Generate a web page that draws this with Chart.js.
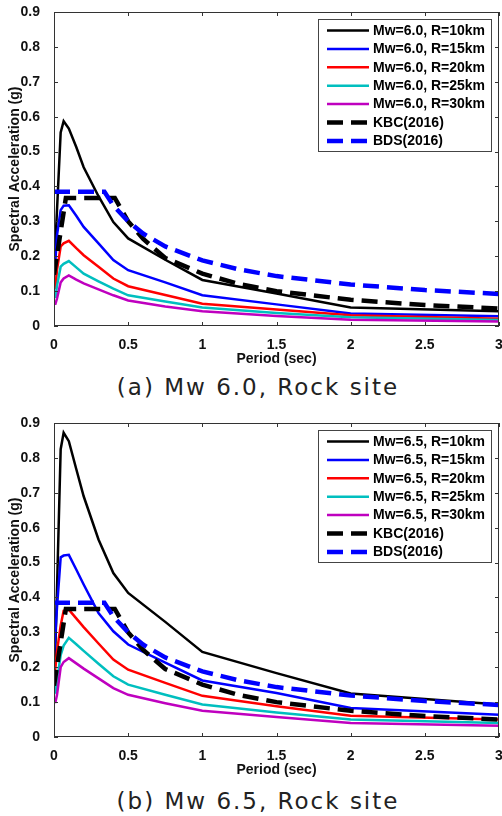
<!DOCTYPE html>
<html lang="en">
<head>
  <meta charset="UTF-8"/>
  <title>Response spectra - Rock site</title>
  <script src="https://cdn.jsdelivr.net/npm/chart.js"></script>
  <style>
    body { margin: 0; background: #fff; width: 502px; height: 816px; position: relative; overflow: hidden; }
    .chart-box { position: absolute; left: 0; width: 502px; height: 373px; }
    .caption {
      position: absolute; left: 0; width: 516px; text-align: center;
      font-family: "DejaVu Sans", sans-serif; font-size: 23px; letter-spacing: 2px;
      color: #222; line-height: 28px;
    }
  </style>
</head>
<body>

  <div class="chart-box" style="top:0px;"><canvas id="chartA"></canvas></div>
  <div class="caption" style="top:373px;">(a) Mw 6.0, Rock site</div>

  <div class="chart-box" style="top:411px;"><canvas id="chartB"></canvas></div>
  <div class="caption" style="top:787px;">(b) Mw 6.5, Rock site</div>

  <script>
    // periods (sec) of the attenuation curves
    const periods = [0, 0.01, 0.02, 0.045, 0.065, 0.1, 0.15, 0.2, 0.3, 0.4, 0.5, 0.75, 1, 1.5, 2, 3];

    // (a) Mw 6.0
    const sa60R10 = [0.150, 0.24, 0.33, 0.555, 0.587, 0.566, 0.513, 0.455, 0.372, 0.298, 0.251, 0.190, 0.132, 0.093, 0.053, 0.042];
    const sa60R15 = [0.130, 0.19, 0.26, 0.332, 0.345, 0.346, 0.316, 0.284, 0.237, 0.189, 0.160, 0.125, 0.088, 0.062, 0.036, 0.028];
    const sa60R20 = [0.107, 0.11, 0.16, 0.228, 0.237, 0.244, 0.223, 0.203, 0.170, 0.136, 0.114, 0.089, 0.064, 0.047, 0.031, 0.021];
    const sa60R25 = [0.082, 0.083, 0.115, 0.170, 0.178, 0.186, 0.168, 0.150, 0.128, 0.107, 0.088, 0.070, 0.053, 0.037, 0.025, 0.017];
    const sa60R30 = [0.064, 0.064, 0.078, 0.125, 0.136, 0.145, 0.133, 0.122, 0.105, 0.088, 0.073, 0.056, 0.042, 0.029, 0.018, 0.013];

    // (b) Mw 6.5
    const sa65R10 = [0.150, 0.27, 0.42, 0.825, 0.872, 0.848, 0.768, 0.690, 0.566, 0.470, 0.413, 0.330, 0.244, 0.183, 0.125, 0.093];
    const sa65R15 = [0.236, 0.30, 0.37, 0.515, 0.520, 0.522, 0.480, 0.437, 0.355, 0.303, 0.265, 0.213, 0.162, 0.126, 0.083, 0.064];
    const sa65R20 = [0.170, 0.20, 0.245, 0.320, 0.362, 0.365, 0.340, 0.315, 0.268, 0.222, 0.193, 0.155, 0.118, 0.088, 0.061, 0.050];
    const sa65R25 = [0.126, 0.128, 0.160, 0.235, 0.262, 0.284, 0.266, 0.247, 0.210, 0.174, 0.150, 0.121, 0.093, 0.070, 0.050, 0.040];
    const sa65R30 = [0.100, 0.100, 0.120, 0.200, 0.215, 0.226, 0.211, 0.196, 0.168, 0.140, 0.121, 0.097, 0.075, 0.057, 0.040, 0.032];

    // design spectra (same in both panels)
    const kbcPeriods = [0, 0.08, 0.41, 0.5, 0.6, 0.75, 1, 1.25, 1.5, 2, 2.5, 3];
    const kbcSa      = [0.147, 0.367, 0.367, 0.30, 0.25, 0.195, 0.15, 0.12, 0.10, 0.075, 0.06, 0.05];
    const bdsPeriods = [0, 0.34, 0.4, 0.5, 0.6, 0.75, 1, 1.25, 1.5, 2, 2.5, 3];
    const bdsSa      = [0.385, 0.385, 0.345, 0.30, 0.265, 0.228, 0.188, 0.162, 0.143, 0.119, 0.103, 0.092];

    const distances = ['10', '15', '20', '25', '30'];
    const yTicks = [0, 0.1, 0.2, 0.3, 0.4, 0.5, 0.6, 0.7, 0.8, 0.9];
    const xTicks = [0, 0.5, 1, 1.5, 2, 2.5, 3];

    const curveColors = ['#000000', '#0000ff', '#ff0000', '#00bfbf', '#bf00bf'];
    const BOLD = '"Liberation Sans", Arial, sans-serif';

    const pts = (xs, ys) => xs.map((x, i) => ({ x: x, y: ys[i] }));

    // box frame + inward tick marks (matlab style)
    const frameTicks = {
      id: 'frameTicks',
      afterDraw(chart) {
        const { ctx, chartArea: a, scales: { x, y } } = chart;
        ctx.save();
        ctx.strokeStyle = '#333';
        ctx.lineWidth = 1;
        ctx.strokeRect(a.left + 0.5, a.top + 0.5, a.right - a.left - 1, a.bottom - a.top - 1);
        ctx.beginPath();
        xTicks.forEach(v => {
          const px = Math.round(x.getPixelForValue(v)) + 0.5;
          ctx.moveTo(px, a.bottom); ctx.lineTo(px, a.bottom - 4);
          ctx.moveTo(px, a.top); ctx.lineTo(px, a.top + 4);
        });
        yTicks.forEach(v => {
          const py = Math.round(y.getPixelForValue(v)) + 0.5;
          ctx.moveTo(a.left, py); ctx.lineTo(a.left + 4, py);
          ctx.moveTo(a.right, py); ctx.lineTo(a.right - 4, py);
        });
        ctx.stroke();
        ctx.restore();
      }
    };

    // boxed legend in the upper right corner of the plot
    const boxLegend = {
      id: 'boxLegend',
      afterDraw(chart) {
        const { ctx, chartArea: a } = chart;
        const w = 173, h = 132;
        const x0 = a.right - 8 - w, y0 = a.top + 7;
        ctx.save();
        ctx.fillStyle = '#fff';
        ctx.fillRect(x0, y0, w, h);
        ctx.strokeStyle = '#444';
        ctx.lineWidth = 1;
        ctx.strokeRect(x0 + 0.5, y0 + 0.5, w, h);
        ctx.font = 'bold 14px ' + BOLD;
        ctx.textBaseline = 'middle';
        chart.data.datasets.forEach((ds, i) => {
          const yy = y0 + 11.5 + i * 18.4;
          ctx.strokeStyle = ds.borderColor;
          ctx.lineWidth = ds.borderWidth;
          ctx.setLineDash(ds.borderDash || []);
          ctx.beginPath();
          ctx.moveTo(x0 + 9, yy); ctx.lineTo(x0 + 51, yy);
          ctx.stroke();
          ctx.setLineDash([]);
          ctx.fillStyle = '#000';
          ctx.fillText(ds.label, x0 + 55, yy + 0.5);
        });
        ctx.restore();
      }
    };

    function makeChart(id, mw, series) {
      const datasets = series.map((s, i) => ({
        label: 'Mw=' + mw + ', R=' + distances[i] + 'km',
        data: pts(periods, s),
        borderColor: curveColors[i],
        borderWidth: 2.5,
        order: 6 - i
      }));
      datasets.push({
        label: 'KBC(2016)', data: pts(kbcPeriods, kbcSa),
        borderColor: '#000000', borderWidth: 4.5, borderDash: [16, 8], order: 1
      });
      datasets.push({
        label: 'BDS(2016)', data: pts(bdsPeriods, bdsSa),
        borderColor: '#0000ff', borderWidth: 4.5, borderDash: [16, 8], order: 0
      });

      return new Chart(document.getElementById(id), {
        type: 'line',
        data: { datasets },
        options: {
          responsive: true,
          maintainAspectRatio: false,
          animation: false,
          layout: { padding: { top: 12, right: 3, left: 0, bottom: 0 } },
          elements: { point: { radius: 0 }, line: { tension: 0, fill: false } },
          plugins: { legend: { display: false }, tooltip: { enabled: false } },
          scales: {
            x: {
              type: 'linear', min: 0, max: 3,
              grid: { display: false }, border: { display: false },
              afterBuildTicks: s => { s.ticks = xTicks.map(v => ({ value: v })); },
              afterFit: s => { s.height = 47; s.paddingLeft = 0; s.paddingRight = 0; },
              ticks: {
                maxRotation: 0, autoSkip: false, padding: 3, color: '#111',
                font: { family: BOLD, size: 14, weight: 'bold' },
                callback: v => String(v)
              },
              title: {
                display: true, text: 'Period (sec)', color: '#111',
                font: { family: BOLD, size: 14, weight: 'bold' },
                padding: { top: 0, bottom: 5 }
              }
            },
            y: {
              type: 'linear', min: 0, max: 0.9,
              grid: { display: false }, border: { display: false },
              afterBuildTicks: s => { s.ticks = yTicks.map(v => ({ value: v })); },
              afterFit: s => { s.width = 54; s.paddingTop = 0; s.paddingBottom = 0; },
              ticks: {
                autoSkip: false, padding: 6, color: '#111',
                font: { family: BOLD, size: 14, weight: 'bold' },
                callback: v => String(Math.round(v * 10) / 10)
              },
              title: {
                display: true, text: 'Spectral Acceleration (g)', color: '#111',
                font: { family: BOLD, size: 14, weight: 'bold' },
                padding: { top: 6.6, bottom: 0 }
              }
            }
          }
        },
        plugins: [frameTicks, boxLegend]
      });
    }

    makeChart('chartA', '6.0', [sa60R10, sa60R15, sa60R20, sa60R25, sa60R30]);
    makeChart('chartB', '6.5', [sa65R10, sa65R15, sa65R20, sa65R25, sa65R30]);
  </script>
</body>
</html>
